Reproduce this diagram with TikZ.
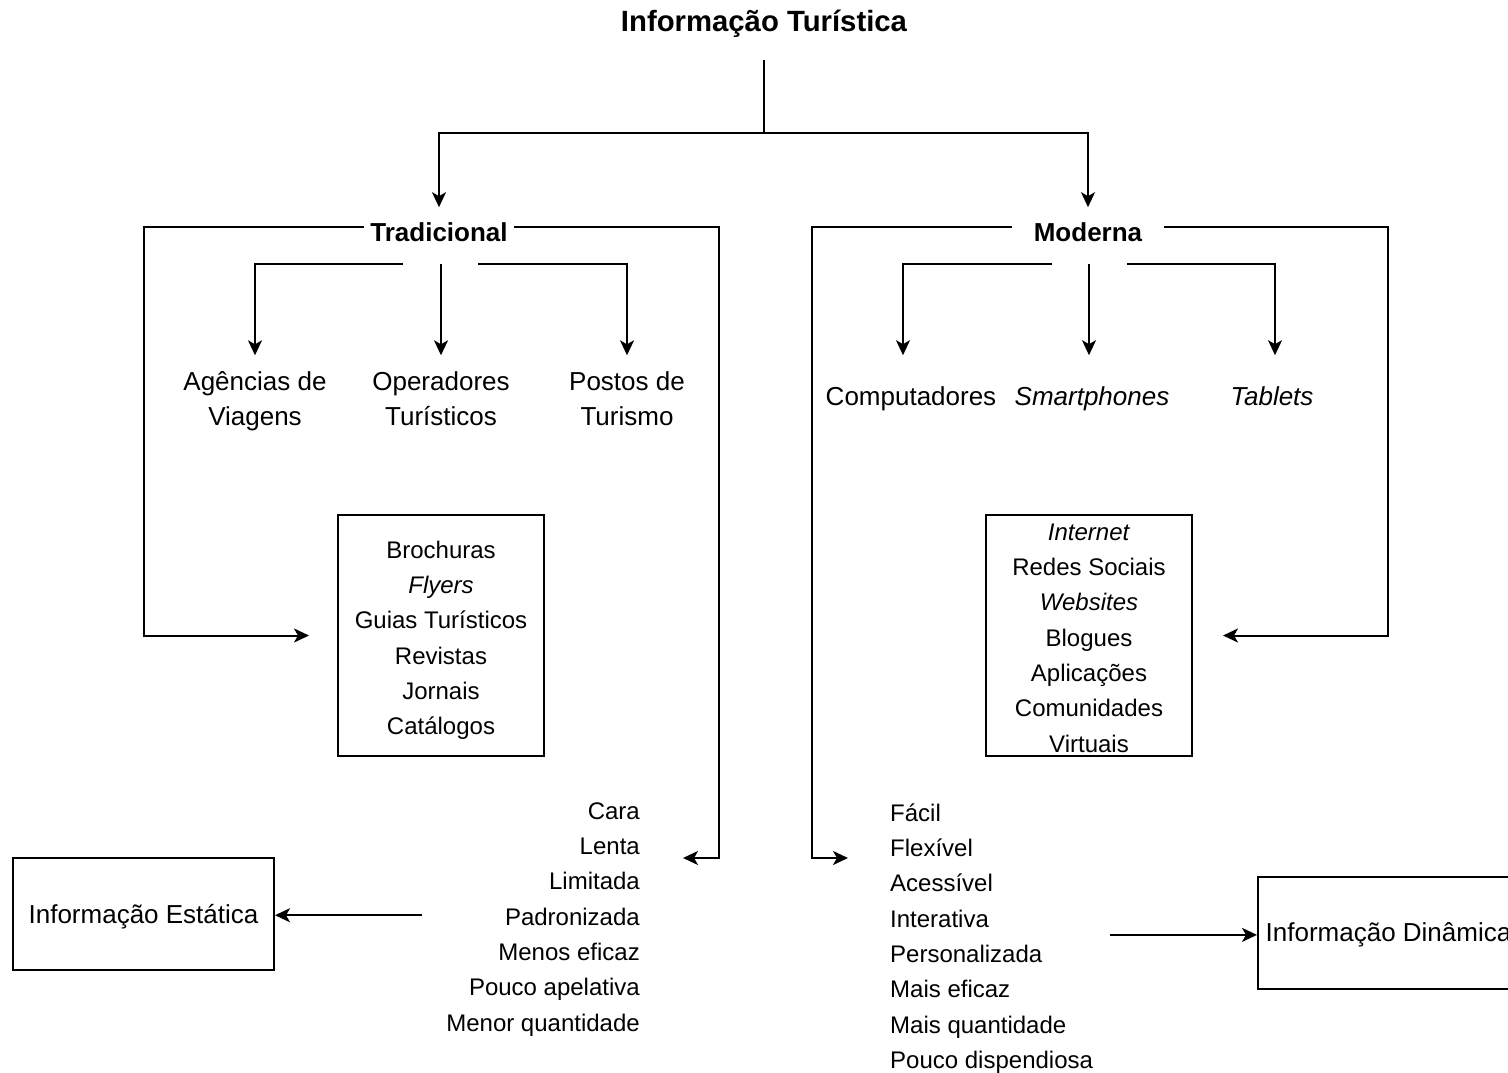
\documentclass[tikz,border=0pt]{standalone}
\usepackage{fontspec}
\setmainfont{Liberation Sans}
\usetikzlibrary{arrows.meta}
\begin{document}
\begin{tikzpicture}[x=1pt,y=-1pt,
  every node/.style={inner sep=0pt, font=\fontsize{26pt}{35.3pt}\selectfont},
  small/.style={font=\fontsize{24pt}{35.3pt}\selectfont},
  line/.style={line width=2pt},
  arr/.style={line width=2pt, -{Stealth[length=15pt,width=14pt,inset=4pt]}},
  head/.style={font=\fontsize{26pt}{35.3pt}\selectfont\bfseries, anchor=base,
    text height=18.6pt, text depth=0pt, inner ysep=0pt},
  item/.style={anchor=base, text height=18.6pt, text depth=0pt},
  pair/.style={anchor=north, align=center},
  listbox/.style={small, draw, line width=2pt, minimum width=206pt, minimum height=241pt, align=center},
  infobox/.style={draw, line width=2pt, minimum width=261pt, minimum height=112pt,
    text height=18.6pt, text depth=0pt},
]
\useasboundingbox (0,0) rectangle (1508,1073);
\clip (0,0) rectangle (1508,1073);

% root
\node[font=\fontsize{29.3pt}{35pt}\selectfont\bfseries, anchor=base, text depth=0pt]
  (title) at (764,32) {Informação Turística};

% the two branches
\node[head, inner xsep=6pt] (trad) at (439,241) {Tradicional};
\node[head, inner xsep=21.5pt] (mod) at (1088,241) {Moderna};

% traditional channels
\node[pair] (agencias) at (255,365.3) {\strut Agências de\\Viagens};
\node[pair] (operadores) at (441,365.3) {\strut Operadores\\Turísticos};
\node[pair] (postos) at (627,365.3) {\strut Postos de\\Turismo};

% modern devices
\node[item] (comp) at (911,405) {Computadores};
\node[item] (smart) at (1092,405) {\textit{Smartphones}};
\node[item] (tab) at (1272,405) {\textit{Tablets}};

% supports
\node[listbox] (lbox) at (441,635.5)
  {\rule{0pt}{32.7pt}Brochuras\\\textit{Flyers}\\Guias Turísticos\\Revistas\\Jornais\\\strut Catálogos};
\node[listbox] (rbox) at (1089,635.5)
  {\rule{0pt}{21.8pt}\textit{Internet}\\Redes Sociais\\\textit{Websites}\\Blogues\\Aplicações\\Comunidades\\Virtuais};

% characteristics
\node[small, anchor=north east, align=right] (llist) at (640,794.3)
  {\strut Cara\\Lenta\\Limitada\\Padronizada\\Menos eficaz\\Pouco apelativa\\Menor quantidade};
\node[small, anchor=north west, align=left] (rlist) at (890,796.3)
  {\strut Fácil\\Flexível\\Acessível\\Interativa\\Personalizada\\Mais eficaz\\Mais quantidade\\Pouco dispendiosa};

% outcomes
\node[infobox] (estatica) at (143.5,914) {Informação Estática};
\node[infobox] (dinamica) at (1388.5,932.5) {Informação Dinâmica};

% junction points
\coordinate (fork) at (764,133);
\coordinate (tL) at (403,264);
\coordinate (tM) at (441,264);
\coordinate (tR) at (478,264);
\coordinate (mL) at (1052,264);
\coordinate (mM) at (1089,264);
\coordinate (mR) at (1127,264);
\coordinate (lin) at (683,858);
\coordinate (rin) at (848,858);

% root to branches
\draw[line, shorten <=28pt] (title.south) -- (fork);
\draw[arr, shorten >=15pt] (fork) -| (trad.north);
\draw[arr, shorten >=15pt] (fork) -| (mod.north);

% traditional sub-branches
\draw[arr, shorten >=10pt] (tL) -| (agencias.north);
\draw[arr, shorten >=10pt] (tM) -- (operadores.north);
\draw[arr, shorten >=10pt] (tR) -| (postos.north);

% modern sub-branches
\draw[arr, shorten >=31pt] (mL) -| ([xshift=-8pt]comp.north);
\draw[arr, shorten >=31pt] (mM) -- ([xshift=-3pt]smart.north);
\draw[arr, shorten >=31pt] (mR) -| ([xshift=3pt]tab.north);

% outer frames
\draw[arr, shorten >=28pt] ([yshift=5pt]trad.west) -| (144,635.5) -- (lbox.west);
\draw[arr] ([yshift=5pt]trad.east) -| (719,858) -- (lin);
\draw[arr] ([yshift=5pt]mod.west) -| (812,858) -- (rin);
\draw[arr, shorten >=30pt] ([yshift=5pt]mod.east) -| (1388,635.5) -- (rbox.east);

% to the outcomes
\draw[arr, shorten <=24pt] (llist.west) -- (llist.west -| estatica.east);
\draw[arr, shorten <=17pt] (rlist.east) -- (rlist.east -| dinamica.west);
\end{tikzpicture}
\end{document}
